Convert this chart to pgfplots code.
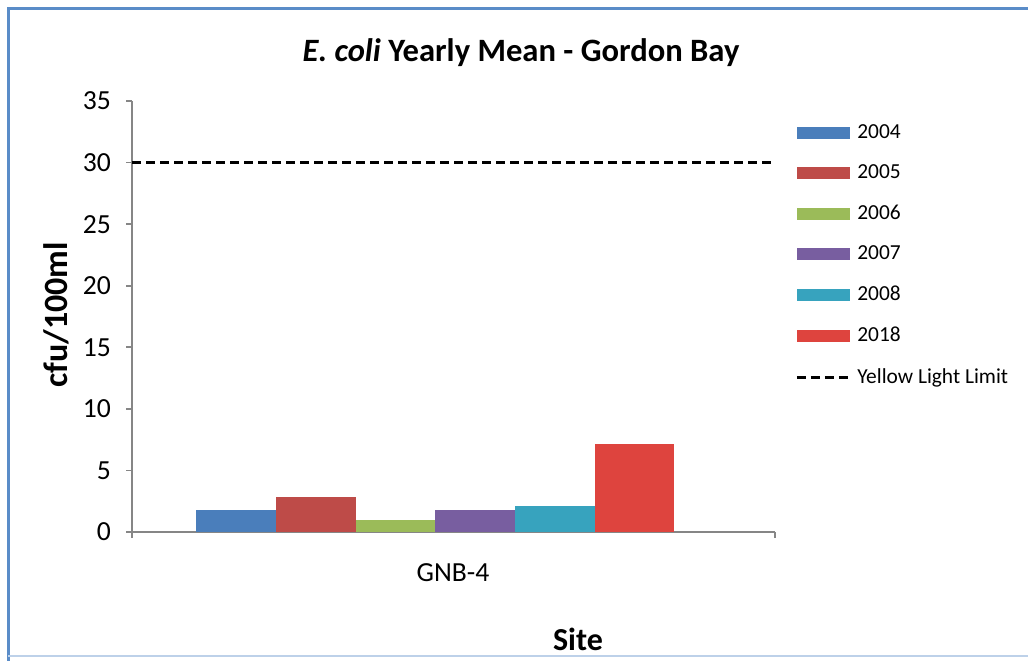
\documentclass[border=0pt]{standalone}
\usepackage{fontspec}
\setmainfont{Carlito}
\usepackage{pgfplots}
\pgfplotsset{compat=1.18}
\definecolor{c04}{RGB}{74,126,187}
\definecolor{c05}{RGB}{190,75,72}
\definecolor{c06}{RGB}{155,187,89}
\definecolor{c07}{RGB}{120,94,160}
\definecolor{c08}{RGB}{55,163,190}
\definecolor{c18}{RGB}{222,68,62}
\definecolor{frame}{RGB}{90,140,200}
\definecolor{axgray}{RGB}{134,134,134}
\pgfplotsset{
  barlegend/.style={legend image code/.code={\fill[##1] (0pt,-3pt) rectangle (26.5pt,3pt);}},
  dashlegend/.style={legend image code/.code={\draw[##1] (0pt,0pt) -- (27pt,0pt);}},
}
\begin{document}
\begin{tikzpicture}[x=0.5pt,y=0.5pt]
\useasboundingbox (0,0) rectangle (1028,660);
\draw[frame, line width=1.5pt] (8,-20) -- (8,651) -- (1100,651);
\draw[frame!40, line width=0.8pt] (8,4) -- (1100,4);
\begin{axis}[
  at={(66pt,64pt)}, anchor=south west, scale only axis,
  width=321.5pt, height=215.5pt,
  xmin=0, xmax=643, ymin=0, ymax=35,
  ytick={0,5,...,35},
  xtick={0,643}, xticklabels={},
  extra x ticks={321}, extra x tick labels={GNB-4},
  extra x tick style={major tick length=0pt, xticklabel style={yshift=-12.5pt}},
  axis x line*=bottom, axis y line*=left,
  axis line style={axgray, line width=0.8pt},
  tick style={axgray, line width=0.8pt},
  tick align=outside, major tick length=3pt,
  /pgf/number format/assume math mode=true,
  ticklabel style={font=\fontsize{13.8}{16}\selectfont},
  yticklabel style={xshift=-4pt},
  ybar, bar shift=0pt, bar width=79.7,
  legend style={draw=none, fill=none, at={(rel axis cs:1.031,0.958)}, anchor=north west,
    font=\fontsize{10.7}{12}\selectfont, row sep=6.7pt, inner sep=0pt,
    nodes={inner sep=2.5pt}},
  legend cell align=left,
  clip=false,
]
\addplot[fill=c04, draw=none, barlegend] coordinates {(104,1.8)};
\addlegendentry{2004}
\addplot[fill=c05, draw=none, barlegend] coordinates {(183.7,2.87)};
\addlegendentry{2005}
\addplot[fill=c06, draw=none, barlegend] coordinates {(263.4,0.98)};
\addlegendentry{2006}
\addplot[fill=c07, draw=none, barlegend] coordinates {(343.1,1.76)};
\addlegendentry{2007}
\addplot[fill=c08, draw=none, barlegend] coordinates {(422.8,2.1)};
\addlegendentry{2008}
\addplot[fill=c18, draw=none, barlegend] coordinates {(502.5,7.15)};
\addlegendentry{2018}
\addplot[sharp plot, black, line width=1.5pt, dash pattern=on 4.5pt off 2.5pt, dashlegend]
  coordinates {(0,30) (643,30)};
\addlegendentry{Yellow Light Limit}
\end{axis}
\node[font=\fontsize{16.3}{19}\selectfont\bfseries] at (521,607) {{\itshape E. coli} Yearly Mean - Gordon Bay};
\node[font=\fontsize{17}{20}\selectfont\bfseries, rotate=90] at (56,345) {cfu/100ml};
\node[font=\fontsize{16}{19}\selectfont\bfseries] at (578,21) {Site};
\end{tikzpicture}
\end{document}
